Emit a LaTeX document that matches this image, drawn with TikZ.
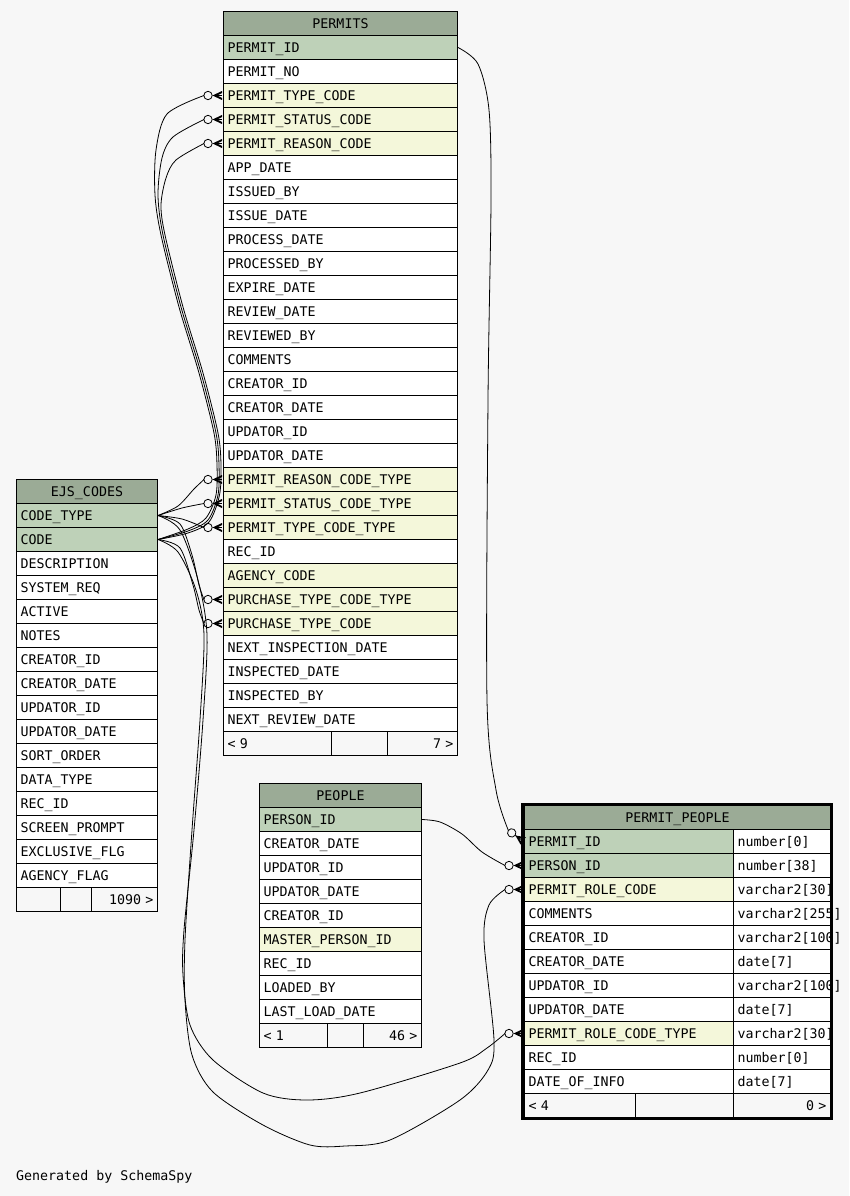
\documentclass[tikz,border=0pt]{standalone}
\usepackage{fontspec}
\newfontfamily\schemafont{DejaVu Sans Mono}
\definecolor{bgcol}{HTML}{F7F7F7}
\definecolor{headcol}{HTML}{9BAB96}
\definecolor{pkcol}{HTML}{BED1B8}
\definecolor{fkcol}{HTML}{F4F7DA}
\tikzset{
  cell/.style={draw=black, line width=1pt, anchor=north west, minimum height=24pt,
    inner xsep=4pt, inner ysep=0pt, text height=11pt, text depth=1pt, align=left,
    font=\schemafont\fontsize{13.3}{15}\selectfont},
  head/.style={cell, fill=headcol, align=center},
  plain/.style={cell, fill=white},
  pk/.style={cell, fill=pkcol},
  fk/.style={cell, fill=fkcol},
  foot/.style={cell, fill=bgcol},
  rel/.style={draw=black, line width=0.8pt},
  crowodot/.pic={
    \draw[rel] (-15,0) circle[radius=4.2pt];
    \fill (-10.5,0) -- (-1,-4.5) -- (-1,-2.5) -- (-6,0) -- (-1,2.5) -- (-1,4.5) -- cycle;
    \draw[rel] (-10.5,0) -- (-1,0);
    \coordinate (-tip) at (-19,0);
  }
}
\begin{document}
\begin{tikzpicture}[x=1pt,y=-1pt]
\fill[bgcol] (0,0) rectangle (849,1196);
\useasboundingbox (0,0) rectangle (849,1196);

% PERMITS
\node[head, text width=226pt] (pmh) at (223,11) {PERMITS};
\foreach \t/\s [count=\i] in {PERMIT\_ID/pk, PERMIT\_NO/plain, PERMIT\_TYPE\_CODE/fk,
  PERMIT\_STATUS\_CODE/fk, PERMIT\_REASON\_CODE/fk, APP\_DATE/plain, ISSUED\_BY/plain,
  ISSUE\_DATE/plain, PROCESS\_DATE/plain, PROCESSED\_BY/plain, EXPIRE\_DATE/plain,
  REVIEW\_DATE/plain, REVIEWED\_BY/plain, COMMENTS/plain, CREATOR\_ID/plain,
  CREATOR\_DATE/plain, UPDATOR\_ID/plain, UPDATOR\_DATE/plain,
  PERMIT\_REASON\_CODE\_TYPE/fk, PERMIT\_STATUS\_CODE\_TYPE/fk, PERMIT\_TYPE\_CODE\_TYPE/fk,
  REC\_ID/plain, AGENCY\_CODE/fk, PURCHASE\_TYPE\_CODE\_TYPE/fk, PURCHASE\_TYPE\_CODE/fk,
  NEXT\_INSPECTION\_DATE/plain, INSPECTED\_DATE/plain, INSPECTED\_BY/plain,
  NEXT\_REVIEW\_DATE/plain}
  \node[style=\s, text width=226pt] (pm\i) at (223,{35+24*(\i-1)}) {\t};
\node[foot, text width=100pt] (pmf1) at (223,731) {<\ 9};
\node[foot, text width=48pt] (pmf2) at (331,731) {};
\node[foot, text width=62pt, align=right] (pmf3) at (387,731) {7 >};

% EJS_CODES
\node[head, text width=133pt] (ejh) at (16,479) {EJS\_CODES};
\foreach \t/\s [count=\i] in {CODE\_TYPE/pk, CODE/pk, DESCRIPTION/plain, SYSTEM\_REQ/plain,
  ACTIVE/plain, NOTES/plain, CREATOR\_ID/plain, CREATOR\_DATE/plain, UPDATOR\_ID/plain,
  UPDATOR\_DATE/plain, SORT\_ORDER/plain, DATA\_TYPE/plain, REC\_ID/plain,
  SCREEN\_PROMPT/plain, EXCLUSIVE\_FLG/plain, AGENCY\_FLAG/plain}
  \node[style=\s, text width=133pt] (ej\i) at (16,{503+24*(\i-1)}) {\t};
\node[foot, text width=36pt] (ejf1) at (16,887) {};
\node[foot, text width=23pt] (ejf2) at (60,887) {};
\node[foot, text width=58pt, align=right] (ejf3) at (91,887) {1090 >};

% PEOPLE
\node[head, text width=154pt] (plh) at (259,783) {PEOPLE};
\foreach \t/\s [count=\i] in {PERSON\_ID/pk, CREATOR\_DATE/plain, UPDATOR\_ID/plain,
  UPDATOR\_DATE/plain, CREATOR\_ID/plain, MASTER\_PERSON\_ID/fk, REC\_ID/plain,
  LOADED\_BY/plain, LAST\_LOAD\_DATE/plain}
  \node[style=\s, text width=154pt] (pl\i) at (259,{807+24*(\i-1)}) {\t};
\node[foot, text width=60pt] (plf1) at (259,1023) {<\ 1};
\node[foot, text width=28pt] (plf2) at (327,1023) {};
\node[foot, text width=50pt, align=right] (plf3) at (363,1023) {46 >};

% PERMIT_PEOPLE
\node[head, text width=298pt] (pph) at (524,805) {PERMIT\_PEOPLE};
\foreach \t/\s/\d [count=\i] in {PERMIT\_ID/pk/number[0], PERSON\_ID/pk/number[38],
  PERMIT\_ROLE\_CODE/fk/varchar2[30], COMMENTS/plain/varchar2[255],
  CREATOR\_ID/plain/varchar2[100], CREATOR\_DATE/plain/date[7],
  UPDATOR\_ID/plain/varchar2[100], UPDATOR\_DATE/plain/date[7],
  PERMIT\_ROLE\_CODE\_TYPE/fk/varchar2[30], REC\_ID/plain/number[0],
  DATE\_OF\_INFO/plain/date[7]}
  {
  \node[style=\s, text width=201pt] (pp\i) at (524,{829+24*(\i-1)}) {\t};
  \node[plain, text width=89pt] (ppt\i) at (733,{829+24*(\i-1)}) {\d};
  }
\node[foot, text width=103pt] (ppf1) at (524,1093) {<\ 4};
\node[foot, text width=90pt] (ppf2) at (635,1093) {};
\node[foot, text width=89pt, align=right] (ppf3) at (733,1093) {0 >};
\draw[line width=3pt] (522.5,804.5) rectangle (831.5,1118.5);

% markers
\pic (m1) at (pm3.west) {crowodot};
\pic (m2) at (pm4.west) {crowodot};
\pic (m3) at (pm5.west) {crowodot};
\pic (m4) at (pm19.west) {crowodot};
\pic (m5) at (pm20.west) {crowodot};
\pic (m6) at (pm21.west) {crowodot};
\pic (m7) at (pm24.west) {crowodot};
\pic (m8) at (pm25.west) {crowodot};
\pic (m9) at (pp3.west) {crowodot};
\pic (m10) at (pp9.west) {crowodot};
\pic[rotate=-35] (m11) at (pp1.west) {crowodot};
\pic (m12) at (pp2.west) {crowodot};

% relations
\draw[rel] plot[smooth] coordinates {(ej2.east) (188,529) (206,518) (216,495) (217,465)
  (214,433) (199,373) (179,307) (161,235) (155,195) (156,150) (167,114) (m1-tip)};
\draw[rel] plot[smooth] coordinates {(ej2.east) (188,531) (208,520) (218,495) (219,465)
  (216,433) (201,373) (181,307) (163,235) (158,195) (162,158) (173,137) (m2-tip)};
\draw[rel] plot[smooth] coordinates {(ej2.east) (188,533) (209,522) (219.5,495) (221,465)
  (218,433) (203,373) (183,307) (165,235) (161,205) (166,178) (176,160) (m3-tip)};
\draw[rel] plot[smooth] coordinates {(ej1.east) (178,506) (194,489) (m4-tip)};
\draw[rel] plot[smooth] coordinates {(ej1.east) (182,508) (m5-tip)};
\draw[rel] plot[smooth] coordinates {(ej1.east) (182,519) (m6-tip)};
\draw[rel] plot[smooth] coordinates {(ej1.east) (180,524) (192,555) (199,585) (m7-tip)};
\draw[rel] plot[smooth] coordinates {(ej2.east) (180,548) (193,585) (199,610) (m8-tip)};
\draw[rel] plot[smooth] coordinates {(ej2.east) (178,552) (196,590) (204,635) (200,720)
  (192,830) (185,940) (185,1000) (192,1055) (213,1092) (263,1125) (310,1145) (345,1146)
  (390,1140) (460,1100) (488,1070) (494,1040) (484,940) (489,905) (m9-tip)};
\draw[rel] plot[smooth] coordinates {(ej1.east) (180,530) (198,580) (207,635) (203,720)
  (194,830) (184,930) (183,975) (190,1025) (213,1060) (263,1093) (307,1100) (360,1093)
  (460,1063) (487,1048) (m10-tip)};
\draw[rel] plot[smooth] coordinates {(pm1.east) (478,64) (489,110) (491,200) (488,400)
  (487,700) (496,790) (m11-tip)};
\draw[rel] plot[smooth] coordinates {(pl1.east) (440,822) (462,834) (482,852) (m12-tip)};

\node[anchor=west, inner sep=0pt, font=\schemafont\fontsize{13.3}{15}\selectfont] (gen)
  at (16,1177) {Generated by SchemaSpy};
\end{tikzpicture}
\end{document}
